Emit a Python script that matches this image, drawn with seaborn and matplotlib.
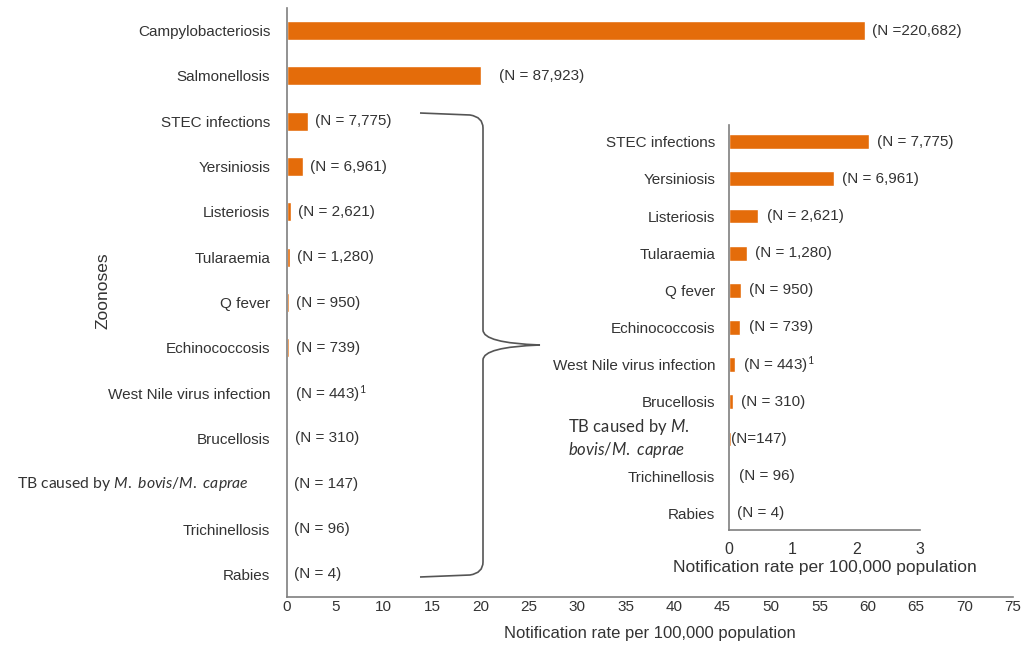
import matplotlib
matplotlib.use("Agg")
import matplotlib.pyplot as plt
import seaborn as sns
import pandas as pd
from matplotlib.path import Path
from matplotlib.patches import PathPatch

# data
diseases = ["Campylobacteriosis", "Salmonellosis", "STEC infections", "Yersiniosis",
            "Listeriosis", "Tularaemia", "Q fever", "Echinococcosis",
            "West Nile virus infection", "Brucellosis", "TB", "Trichinellosis", "Rabies"]
rates = [59.7, 20.0, 2.2, 1.65, 0.46, 0.28, 0.19, 0.18, 0.09, 0.06, 0.03, 0.02, 0.0]
main_labels = ["(N =220,682)", "(N = 87,923)", "(N = 7,775)", "(N = 6,961)", "(N = 2,621)",
               "(N = 1,280)", "(N = 950)", "(N = 739)", "(N = 443)$^1$", "(N = 310)",
               "(N = 147)", "(N = 96)", "(N = 4)"]
inset_labels = ["(N = 7,775)", "(N = 6,961)", "(N = 2,621)", "(N = 1,280)", "(N = 950)",
                "(N = 739)", "(N = 443)$^1$", "(N = 310)", "(N=147)", "(N = 96)", "(N = 4)"]
main_ticks = list(range(0, 80, 5))
inset_ticks = [0, 1, 2, 3]

df = pd.DataFrame({"disease": diseases, "rate": rates})
inset_df = df.iloc[2:].reset_index(drop=True)

sns.set_style("white")
plt.rcParams["font.family"] = ["Liberation Sans", "DejaVu Sans"]
plt.rcParams["mathtext.fontset"] = "custom"
plt.rcParams["mathtext.it"] = "Lato:italic"
plt.rcParams["mathtext.rm"] = "Lato"

orange = "#E46C0A"
grey = "#7f7f7f"
txt = "#333333"

fig = plt.figure(figsize=(10.31, 6.51), dpi=100)

# main chart
ax = fig.add_axes([287 / 1031, 1 - 597 / 651, 726 / 1031, 589 / 651])
sns.barplot(data=df, x="rate", y="disease", orient="h", color=orange, width=0.42,
            saturation=1, ax=ax)
ax.set_xlim(0, 75)
ax.set_ylim(12.5, -0.5)
ax.set_xticks(main_ticks)
ax.set_xlabel("Notification rate per 100,000 population", fontsize=12, color=txt, labelpad=9)
ax.set_ylabel("Zoonoses", fontsize=12.5, color=txt)
ax.yaxis.set_label_coords(-0.243, 0.52)
tick_names = diseases[:10] + [""] + diseases[11:]
ax.set_yticks(range(len(diseases)))
ax.set_yticklabels(tick_names, fontsize=11, color=txt)
ax.tick_params(axis="y", length=0, pad=12)
ax.tick_params(axis="x", direction="in", length=3, color=grey, labelsize=11, labelcolor=txt, pad=2)
sns.despine(ax=ax)
for s in ["left", "bottom"]:
    ax.spines[s].set_color(grey)
    ax.spines[s].set_linewidth(1.2)

# the TB label sits a little left of the other category names
ax.annotate(r"$\mathrm{TB\ caused\ by\ }\mathit{M.\ bovis/M.\ caprae}$", (0, 10),
            xycoords=("axes fraction", "data"), xytext=(-27.5, 0), textcoords="offset points",
            ha="right", va="center", fontsize=11.3, color=txt)

pads = [5, 13] + [5] * 11
for i, (r, lab) in enumerate(zip(rates, main_labels)):
    ax.annotate(lab, (r, i), xytext=(pads[i], 0), textcoords="offset points",
                va="center", ha="left", fontsize=11, color=txt)

# inset chart
ax2 = fig.add_axes([729 / 1031, 1 - 530 / 651, 191 / 1031, 405 / 651])
sns.barplot(data=inset_df, x="rate", y="disease", orient="h", color=orange, width=0.4,
            saturation=1, ax=ax2)
ax2.set_xlim(0, 3)
ax2.set_ylim(10.45, -0.45)
ax2.set_xticks(inset_ticks)
ax2.set_xlabel("Notification rate per 100,000 population", fontsize=12.5, color=txt, labelpad=2)
ax2.set_ylabel("")
inset_names = list(inset_df["disease"])
inset_names[8] = ""
ax2.set_yticks(range(len(inset_names)))
ax2.set_yticklabels(inset_names, fontsize=11, color=txt)
ax2.tick_params(axis="y", length=0, pad=10)
ax2.tick_params(axis="x", direction="in", length=3, color=grey, labelsize=11.5, labelcolor=txt, pad=9)
sns.despine(ax=ax2)
for s in ["left", "bottom"]:
    ax2.spines[s].set_color(grey)
    ax2.spines[s].set_linewidth(1.2)

ax2.annotate("$\\mathrm{TB\\ caused\\ by\\ }\\mathit{M.}$\n$\\mathit{bovis/M.\\ caprae}$", (0, 8),
             xycoords=("axes fraction", "data"), xytext=(-116, 0), textcoords="offset points",
             ha="left", va="center", multialignment="left", fontsize=12, color=txt)

for i, (r, lab) in enumerate(zip(inset_df["rate"], inset_labels)):
    off = 0 if i == 8 else 6
    ax2.annotate(lab, (r, i), xytext=(off, 0), textcoords="offset points",
                 va="center", ha="left", fontsize=11, color=txt)

# curly brace linking the small zoonoses to the inset
pts = [(420, 113), (470, 115), (483, 117), (483, 128), (483, 330), (483, 343), (540, 345),
       (483, 347), (483, 360), (483, 562), (483, 573), (470, 575), (420, 577)]
codes = [Path.MOVETO, Path.LINETO, Path.CURVE3, Path.CURVE3, Path.LINETO, Path.CURVE3,
         Path.CURVE3, Path.CURVE3, Path.CURVE3, Path.LINETO, Path.CURVE3, Path.CURVE3, Path.LINETO]
verts = [(x / 1031, 1 - y / 651) for x, y in pts]
fig.patches.append(PathPatch(Path(verts, codes), transform=fig.transFigure,
                             fill=False, edgecolor="#555555", lw=1.2))

fig.savefig("out.png", dpi=100)
